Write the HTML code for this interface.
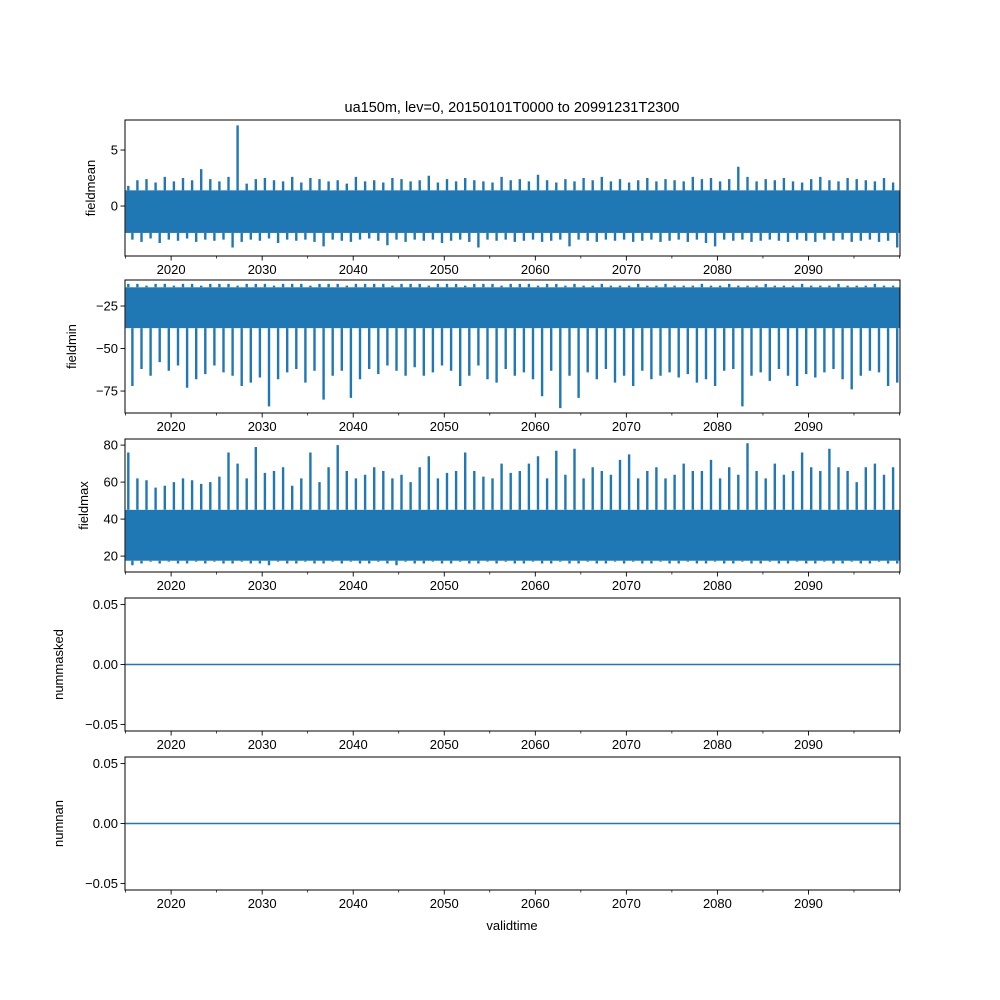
<!DOCTYPE html>
<html><head><meta charset="utf-8">
<style>
body{margin:0;background:#fff;}
svg{display:block;font-family:"Liberation Sans","DejaVu Sans",sans-serif;}
</style></head>
<body>
<svg id="chart" width="1000" height="1000" viewBox="0 0 1000 1000">
<rect width="1000" height="1000" fill="#fff"/>
<text x="512" y="112" font-size="14.5" text-anchor="middle">ua150m, lev=0, 20150101T0000 to 20991231T2300</text>
<text x="512" y="930" font-size="13" text-anchor="middle">validtime</text>
</svg>
<script>
// yearly extremes 2015..2099 (85 values each)
const years = [];
for (let y = 2015; y < 2100; y++) years.push(y);
const meanMax = [1.8,2.3,2.4,2.1,2.6,2.2,2.5,2.3,3.3,2.4, 2.2,2.6,7.2,2.0,2.4,2.5,2.3,2.2,2.6,2.1, 2.5,2.4,2.2,2.3,2.0,2.6,2.2,2.3,2.1,2.5, 2.4,2.2,2.3,2.7,2.1,2.4,2.2,2.5,2.3,2.2, 2.1,2.6,2.3,2.4,2.2,2.8,2.3,2.1,2.4,2.2, 2.5,2.3,2.6,2.2,2.4,2.1,2.3,2.5,2.2,2.4, 2.3,2.2,2.6,2.4,2.5,2.2,2.4,3.5,2.6,2.2, 2.4,2.3,2.5,2.2,2.1,2.4,2.6,2.3,2.2,2.5, 2.4,2.3,2.2,2.5,2.1];
const meanMin = [-3.0,-3.2,-2.9,-3.3,-3.0,-3.1,-2.9,-3.2,-3.0,-3.1, -3.0,-3.7,-3.2,-3.0,-3.1,-2.9,-3.3,-3.0,-3.1,-3.0, -3.2,-3.6,-3.0,-3.1,-3.2,-3.0,-2.9,-3.1,-3.5,-3.0, -3.2,-3.0,-3.1,-3.0,-3.3,-3.1,-3.0,-3.2,-3.7,-3.0, -3.1,-3.0,-3.2,-3.1,-3.0,-3.2,-3.1,-3.0,-3.6,-3.0, -3.1,-3.2,-3.0,-3.1,-3.0,-3.2,-3.1,-3.0,-3.2,-3.1, -3.0,-3.2,-3.0,-3.3,-3.6,-3.0,-3.1,-3.0,-3.2,-3.1, -3.0,-3.1,-3.2,-3.0,-3.1,-3.2,-3.0,-3.1,-3.0,-3.2, -3.1,-3.0,-3.2,-3.1,-3.7];
const minMax = [-12,-12,-13,-12,-12,-13,-12,-12,-13,-12, -12,-12,-13,-12,-12,-12,-13,-12,-12,-12, -13,-12,-12,-12,-13,-12,-12,-12,-12,-13, -12,-12,-12,-13,-12,-12,-12,-13,-12,-12, -12,-13,-12,-12,-12,-13,-12,-12,-13,-12, -13,-13,-12,-13,-13,-13,-12,-13,-13,-12, -13,-13,-13,-12,-13,-13,-12,-13,-13,-13, -12,-13,-13,-13,-12,-13,-13,-13,-12,-13, -13,-13,-12,-13,-13];
const minMin = [-72,-62,-66,-58,-63,-60,-73,-68,-65,-60, -64,-66,-72,-70,-67,-84,-68,-64,-62,-70, -63,-80,-66,-63,-79,-68,-62,-65,-60,-63, -66,-61,-66,-64,-60,-63,-72,-66,-60,-68, -70,-62,-66,-64,-68,-78,-63,-85,-66,-79, -64,-68,-62,-70,-66,-72,-63,-68,-66,-64, -67,-65,-70,-68,-72,-63,-62,-84,-66,-64, -69,-62,-66,-72,-65,-67,-64,-62,-68,-74, -66,-63,-64,-72,-70];
const maxMax = [76,62,61,57,58,60,62,61,59,60, 63,76,70,62,79,65,66,68,58,62, 76,60,68,80,66,62,64,68,66,62, 64,60,68,74,62,65,66,76,66,63, 62,70,65,66,70,74,62,77,64,78, 62,68,66,64,72,75,62,66,68,62, 64,70,66,66,72,62,68,64,81,66, 62,70,64,66,76,68,66,78,68,66, 60,68,70,64,68];
const maxMin = [15,16,17,16,17,16,16,17,16,17, 16,16,17,16,16,15,17,16,16,17, 16,16,17,16,17,16,16,17,16,15, 17,16,16,17,16,16,17,16,16,17, 16,17,16,16,17,16,16,17,16,16, 17,16,16,17,16,17,16,16,17,16, 16,17,16,16,17,16,16,17,16,16, 17,16,16,17,16,16,17,16,16,17, 16,16,17,16,16];
const coreLow = [-2.4, -38, 17.5];
const coreHigh = [1.4, -14, 45];
const xTicks = [2020,2030,2040,2050,2060,2070,2080,2090];
const xMinor = [2015,2025,2035,2045,2055,2065,2075,2085,2095,2100];

const svg = document.getElementById('chart');
const NS = 'http://www.w3.org/2000/svg';
const X0 = 125.6, X1 = 899.5, T0 = 2015, T1 = 2100;
const xs = t => X0 + (t - T0) / (T1 - T0) * (X1 - X0);
const L = 125, R = 900;
const blue = '#1f77b4';

function mk(tag, attrs, parent) {
  const e = document.createElementNS(NS, tag);
  for (const k in attrs) e.setAttribute(k, attrs[k]);
  (parent || svg).appendChild(e);
  return e;
}

const panels = [
  {name:'fieldmean', top:120, bot:256, ymin:-4.46, ymax:7.68, ticks:[0,5], labels:['0','5'], hi:meanMax, lo:meanMin, k:0, labx:95},
  {name:'fieldmin', top:280, bot:413, ymin:-87.9, ymax:-9.7, ticks:[-75,-50,-25], labels:['\u221275','\u221250','\u221225'], hi:minMax, lo:minMin, k:1, labx:76},
  {name:'fieldmax', top:439, bot:572, ymin:11.4, ymax:83.3, ticks:[20,40,60,80], labels:['20','40','60','80'], hi:maxMax, lo:maxMin, k:2, labx:88},
  {name:'nummasked', top:598, bot:731, ymin:-0.0555, ymax:0.0555, ticks:[-0.05,0,0.05], labels:['\u22120.05','0.00','0.05'], flat:true, labx:63},
  {name:'numnan', top:757, bot:890, ymin:-0.0555, ymax:0.0555, ticks:[-0.05,0,0.05], labels:['\u22120.05','0.00','0.05'], flat:true, labx:63}
];

panels.forEach(p => {
  const g = mk('g', {});
  
  
  const ys = v => p.bot - (v - p.ymin) / (p.ymax - p.ymin) * (p.bot - p.top);
  const clipId = 'clip-' + p.name;
  const cp = mk('clipPath', {id: clipId}, g);
  mk('rect', {x:L, y:p.top, width:R-L, height:p.bot-p.top}, cp);
  const dg = mk('g', {'clip-path':'url(#' + clipId + ')'}, g);
  if (p.flat) {
    const ln = mk('line', {x1:xs(T0), x2:xs(T1), y1:ys(0), y2:ys(0), stroke:blue, 'stroke-width':1.5}, dg);
    
    
  } else {
    const band = mk('rect', {x:xs(T0), y:ys(coreHigh[p.k]), width:xs(T1)-xs(T0), height:ys(coreLow[p.k])-ys(coreHigh[p.k]), fill:blue}, dg);
    
    
    let d = '';
    years.forEach((yr, i) => {
      const xa = xs(yr + 0.3).toFixed(1), xb = xs(yr + 0.75).toFixed(1);
      d += 'M' + xa + ',' + ys(coreHigh[p.k]).toFixed(1) + 'V' + ys(p.hi[i]).toFixed(1);
      d += 'M' + xb + ',' + ys(coreLow[p.k]).toFixed(1) + 'V' + ys(p.lo[i]).toFixed(1);
    });
    const pl = mk('path', {d:d, fill:'none', stroke:blue, 'stroke-width':2.4}, dg);
    
    
  }
  mk('rect', {x:L, y:p.top, width:R-L, height:p.bot-p.top, fill:'none', stroke:'#000', 'stroke-width':1}, g);
  xTicks.forEach(t => {
    const x = xs(t);
    mk('line', {x1:x, x2:x, y1:p.bot, y2:p.bot+4.5, stroke:'#000', 'stroke-width':0.9}, g);
    const tx = mk('text', {x:x, y:p.bot+18, 'font-size':13, 'text-anchor':'middle'}, g);
    tx.textContent = t;
    
    
  });
  xMinor.forEach(t => {
    const x = xs(t);
    mk('line', {x1:x, x2:x, y1:p.bot, y2:p.bot+2.5, stroke:'#000', 'stroke-width':0.7}, g);
  });
  p.ticks.forEach((v, i) => {
    const y = ys(v);
    mk('line', {x1:L-4.5, x2:L, y1:y, y2:y, stroke:'#000', 'stroke-width':0.9}, g);
    const tx = mk('text', {x:L-7, y:y+4.5, 'font-size':13, 'text-anchor':'end'}, g);
    tx.textContent = p.labels[i];
    
    
  });
  const cy = (p.top + p.bot) / 2;
  const yl = mk('text', {x:p.labx, y:cy, 'font-size':13, 'text-anchor':'middle', transform:'rotate(-90 ' + p.labx + ' ' + cy + ')'}, g);
  yl.textContent = p.name;
  
  
});
</script>
</body></html>
